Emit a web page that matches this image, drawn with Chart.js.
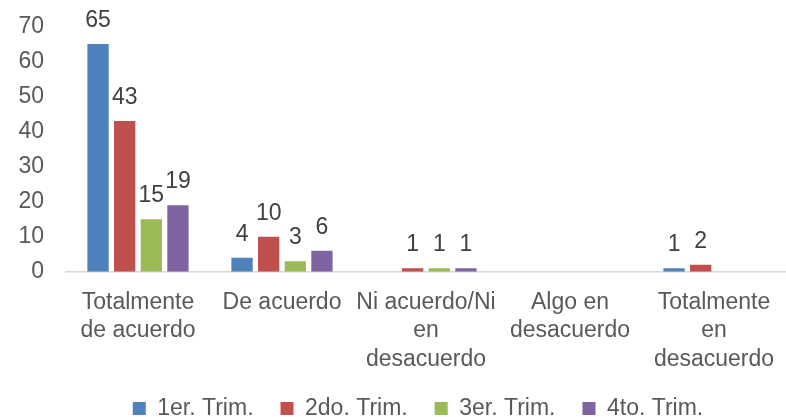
<!DOCTYPE html>
<html>
<head>
<meta charset="utf-8">
<script src="https://cdn.jsdelivr.net/npm/chart.js@4"></script>
<style>
  html, body { margin: 0; padding: 0; background: #fff; }
  #wrap { width: 786px; height: 417px; position: relative; }
</style>
</head>
<body>
<div id="wrap"><canvas id="c" width="786" height="417"></canvas></div>
<script>
// ---------- data ----------
const categories = [
  ["Totalmente", "de acuerdo"],
  ["De acuerdo"],
  ["Ni acuerdo/Ni", "en", "desacuerdo"],
  ["Algo en", "desacuerdo"],
  ["Totalmente", "en", "desacuerdo"]
];
const seriesNames = ["1er. Trim.", "2do. Trim.", "3er. Trim.", "4to. Trim."];
const trim1 = [65, 4, null, null, 1];
const trim2 = [43, 10, 1, null, 2];
const trim3 = [15, 3, 1, null, null];
const trim4 = [19, 6, 1, null, null];
const yTicks = [0, 10, 20, 30, 40, 50, 60, 70];

const colors = ["#4F81BD", "#C0504D", "#9BBB59", "#8064A2"];
const FONT = "'Liberation Sans', Arial, sans-serif";

// value labels above each bar
const valueLabels = {
  id: "valueLabels",
  afterDatasetsDraw(chart) {
    const ctx = chart.ctx;
    ctx.save();
    ctx.font = "23px " + FONT;
    ctx.fillStyle = "#404040";
    ctx.textAlign = "center";
    ctx.textBaseline = "alphabetic";
    chart.data.datasets.forEach((ds, i) => {
      chart.getDatasetMeta(i).data.forEach((bar, j) => {
        const v = ds.data[j];
        if (v == null) return;
        ctx.fillText(String(v), bar.x, bar.y - 17);
      });
    });
    ctx.restore();
  }
};

// nudge the legend to where the original sits, and let the
// three-line category labels run past the axis box
const legendShift = {
  id: "legendShift",
  afterLayout(chart) {
    const l = chart.legend;
    if (l) {
      l.left += 25; l.right += 25;
      l.top += 13; l.bottom += 13;
    }
    chart.scales.x.bottom = chart.height;
  }
};

new Chart(document.getElementById("c"), {
  type: "bar",
  data: {
    labels: categories,
    datasets: [trim1, trim2, trim3, trim4].map((d, i) => ({
      label: seriesNames[i],
      data: d,
      backgroundColor: colors[i],
      borderWidth: 0,
      categoryPercentage: 0.74,
      barPercentage: 0.8
    }))
  },
  options: {
    responsive: false,
    animation: false,
    layout: { padding: { top: 26.5, left: 0, right: 0, bottom: 0 } },
    plugins: {
      tooltip: { enabled: false },
      legend: {
        position: "bottom",
        labels: {
          boxWidth: 13, boxHeight: 13, padding: 27,
          color: "#595959",
          font: { family: FONT, size: 23 }
        }
      }
    },
    scales: {
      x: {
        // hidden tick marks still space the labels off the axis
        grid: { display: false, drawTicks: true, tickLength: 17 },
        border: { display: true, color: "#D9D9D9", width: 1.5 },
        ticks: {
          color: "#595959", padding: 0, maxRotation: 0, autoSkip: false,
          font: { family: FONT, size: 23, lineHeight: 1.23 }
        },
        afterFit(s) { s.height = 85.3; }
      },
      y: {
        min: 0, max: 70,
        grid: { display: false, drawTicks: true, tickLength: 22 },
        border: { display: false },
        afterBuildTicks(s) { s.ticks = yTicks.map(v => ({ value: v })); },
        ticks: {
          color: "#595959", padding: 0,
          font: { family: FONT, size: 23, lineHeight: 1 }
        },
        afterFit(s) { s.width = 66; }
      }
    }
  },
  plugins: [valueLabels, legendShift]
});
</script>
</body>
</html>
